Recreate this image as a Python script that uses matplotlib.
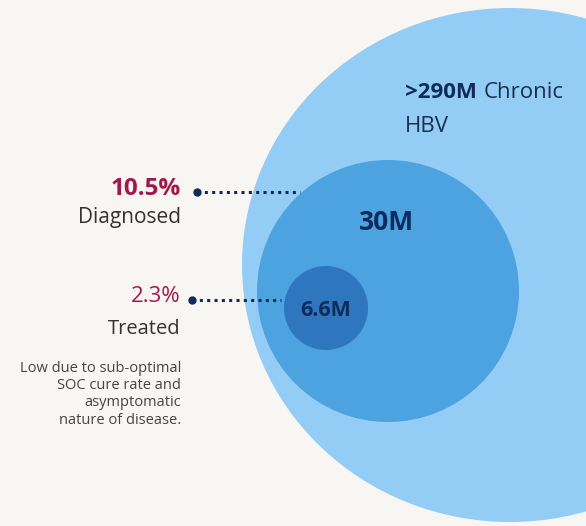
import matplotlib.pyplot as plt
from matplotlib.patches import Ellipse, Circle

# data
circle_values = [">290M", "30M", "6.6M"]
stage_pcts = ["10.5%", "2.3%"]
stage_names = ["Diagnosed", "Treated"]
note_lines = ["Low due to sub-optimal", "SOC cure rate and",
              "asymptomatic", "nature of disease."]

plt.rcParams['font.family'] = ['Open Sans', 'DejaVu Sans']

bg = "#F8F6F3"
navy = "#0F2B5B"
crimson = "#A3184C"
grey = "#333333"

fig = plt.figure(figsize=(5.86, 5.26), dpi=100, facecolor=bg)
ax = fig.add_axes([0, 0, 1, 1])
ax.set_facecolor(bg)
ax.set_xlim(0, 586)
ax.set_ylim(526, 0)
ax.axis("off")

# nested circles (pixel layout)
ax.add_patch(Ellipse((510, 265), 2 * 268, 2 * 257, color="#93CDF6", lw=0))
ax.add_patch(Circle((388, 291), 131, color="#4DA2E0", lw=0))
ax.add_patch(Circle((326, 308), 42, color="#2E77BE", lw=0))

# circle labels
t = ax.text(405, 92, circle_values[0], color=navy, fontsize=16, fontweight="bold",
            va="center", ha="left")
ax.annotate("Chronic", xy=(1, 0.5), xycoords=t, xytext=(5, 0),
            textcoords="offset points", color="#1B2F4F", fontsize=16,
            va="center", ha="left")
ax.text(405, 126, "HBV", color="#1B2F4F", fontsize=16, va="center", ha="left")
ax.text(387, 223, circle_values[1], color=navy, fontsize=19, fontweight="bold",
        va="center", ha="center")
ax.text(326, 310, circle_values[2], color=navy, fontsize=15.5, fontweight="bold",
        va="center", ha="center")

# stage call-outs
pct_y = [189, 297]
name_y = [218, 329]
pct_w = ["bold", "normal"]
pct_fs = [17.5, 16]
name_fs = [15, 14.5]
line_x = [(197, 300), (192, 281)]
for i in range(2):
    ax.text(181, pct_y[i], stage_pcts[i], color=crimson, fontsize=pct_fs[i],
            fontweight=pct_w[i], ha="right", va="center")
    ax.text(181, name_y[i], stage_names[i], color=grey, fontsize=name_fs[i],
            ha="right", va="center")
    y = pct_y[i] + 3
    ax.plot(line_x[i], [y, y], color=navy, lw=2.2, linestyle=(0, (1, 1.4)),
            solid_capstyle="butt", dash_capstyle="butt")
    ax.plot(line_x[i][0], y, "o", color=navy, ms=5)

for j, line in enumerate(note_lines):
    ax.text(181, 368 + j * 17.5, line, color="#444444", fontsize=10.5,
            ha="right", va="center")

fig.savefig("out.png", dpi=100, facecolor=bg)
